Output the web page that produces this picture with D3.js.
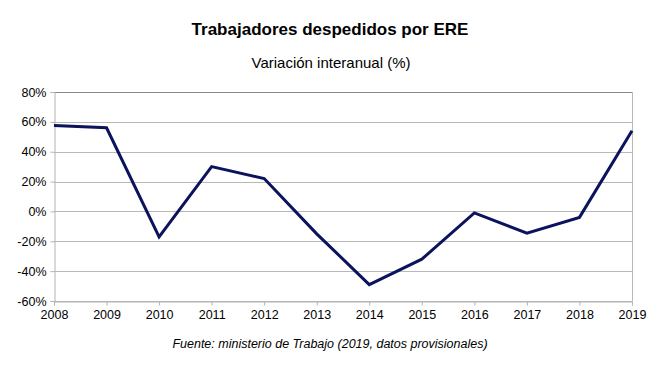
<!DOCTYPE html>
<html lang="es">
<head>
<meta charset="utf-8">
<script src="https://d3js.org/d3.v7.min.js"></script>
<style>
  body { margin: 0; background: #fff; }
  text { font-family: "Liberation Sans", Arial, sans-serif; fill: #000; }
</style>
</head>
<body>
<div id="chart"></div>
<script>
// data
var years = [2008, 2009, 2010, 2011, 2012, 2013, 2014, 2015, 2016, 2017, 2018, 2019];
var variacion = [57.5, 56, -17, 30, 22, -15, -49, -32, -1, -14.5, -4, 54];
var yTicks = [-60, -40, -20, 0, 20, 40, 60, 80];

var width = 660, height = 371;
var plotLeft = 54, plotRight = 632, plotTop = 92, plotBottom = 301;

var svg = d3.select("#chart").append("svg")
    .attr("width", width)
    .attr("height", height);

var xScale = d3.scaleLinear().domain([2008, 2019]).range([plotLeft, plotRight]);
var yScale = d3.scaleLinear().domain([-60, 80]).range([plotBottom, plotTop]);

// gridlines
svg.selectAll(".h").data(yTicks).enter()
    .append("line").classed("h", 1)
    .attr("x1", plotLeft).attr("x2", plotRight)
    .attr("y1", function(d) { return Math.round(yScale(d)) + 0.5; })
    .attr("y2", function(d) { return Math.round(yScale(d)) + 0.5; })
    .attr("stroke", function(d) { return d == 80 ? "#8a8a8a" : "#b8b8b8"; })
    .attr("stroke-width", 1);

// right border
svg.append("line")
    .attr("x1", plotRight + 0.5).attr("x2", plotRight + 0.5)
    .attr("y1", plotTop).attr("y2", plotBottom)
    .attr("stroke", "#b8b8b8");

// axes
var yAxis = d3.axisLeft(yScale)
    .tickValues(yTicks)
    .tickSize(4)
    .tickFormat(function(d) { return d + "%"; });

var xAxis = d3.axisBottom(xScale)
    .tickValues(years)
    .tickSize(4)
    .tickFormat(d3.format("d"));

var gy = svg.append("g")
    .attr("transform", "translate(" + (plotLeft + 0.5) + ",0)")
    .call(yAxis);
gy.select(".domain").attr("stroke", "#b3b3b3");
gy.selectAll(".tick line").attr("stroke", "#b3b3b3");
gy.selectAll(".tick text").attr("x", -8).attr("font-size", 12.5)
    .attr("font-family", "Liberation Sans, Arial, sans-serif");

var gx = svg.append("g")
    .attr("transform", "translate(0," + (plotBottom + 0.5) + ")")
    .call(xAxis);
gx.select(".domain").attr("stroke", "#b3b3b3");
gx.selectAll(".tick line").attr("stroke", "#b3b3b3");
gx.selectAll(".tick text").attr("y", 9).attr("font-size", 12.5)
    .attr("font-family", "Liberation Sans, Arial, sans-serif");

// line
var line = d3.line()
    .x(function(d, i) { return xScale(years[i]); })
    .y(function(d) { return yScale(d); });

svg.append("path")
    .datum(variacion)
    .attr("d", line)
    .attr("fill", "none")
    .attr("stroke", "#0b135c")
    .attr("stroke-width", 3)
    .attr("stroke-linejoin", "miter");

// titles
svg.append("text")
    .attr("x", 330).attr("y", 35)
    .attr("text-anchor", "middle")
    .attr("font-size", 17)
    .attr("font-weight", "bold")
    .text("Trabajadores despedidos por ERE");

svg.append("text")
    .attr("x", 331).attr("y", 68)
    .attr("text-anchor", "middle")
    .attr("font-size", 15)
    .text("Variación interanual (%)");

svg.append("text")
    .attr("x", 330).attr("y", 348)
    .attr("text-anchor", "middle")
    .attr("font-size", 12.5)
    .attr("font-style", "italic")
    .text("Fuente: ministerio de Trabajo (2019, datos provisionales)");
</script>
</body>
</html>
